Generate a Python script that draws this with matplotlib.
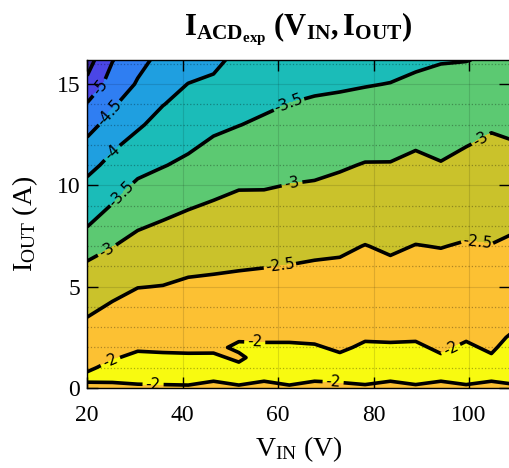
import matplotlib
matplotlib.use('Agg')
import matplotlib.pyplot as plt
import numpy as np
from matplotlib.ticker import MultipleLocator

plt.rcParams['font.family'] = ['Liberation Serif', 'DejaVu Serif']
plt.rcParams['mathtext.fontset'] = 'custom'
plt.rcParams['mathtext.rm'] = 'Liberation Serif'
plt.rcParams['mathtext.it'] = 'Liberation Serif:italic'
plt.rcParams['mathtext.bf'] = 'Liberation Serif:bold'

# input voltage grid (V) and output current grid (A)
v_in = np.linspace(20, 110, 18)
i_out = [0, 0.5, 1, 1.5, 2, 2.5, 3, 4, 5, 6, 7, 8, 9, 10, 11, 12, 13, 14, 15, 16.2]

# I_ACD values, one row per current, one column per voltage
z_rows = [
    [-2.08, -2.12, -2.06, -2.05, -2.04, -2.20, -2.04, -2.20, -2.04, -2.20, -2.12, -2.05, -2.20, -2.05, -2.20, -2.05, -2.20, -2.05],
    [-1.94, -1.90, -1.90, -1.90, -1.90, -1.90, -1.90, -1.90, -1.90, -1.90, -1.90, -1.90, -1.90, -1.90, -1.90, -1.90, -1.90, -1.90],
    [-2.04, -1.93, -1.90, -1.90, -1.90, -1.90, -1.95, -1.90, -1.90, -1.90, -1.92, -1.90, -1.90, -1.90, -1.93, -1.90, -1.93, -1.90],
    [-2.13, -2.02, -1.95, -1.96, -1.97, -1.96, -2.04, -1.90, -1.90, -1.91, -1.97, -1.90, -1.90, -1.90, -1.98, -1.92, -1.98, -1.90],
    [-2.22, -2.10, -2.03, -2.04, -2.04, -2.05, -1.96, -1.97, -1.97, -1.98, -2.03, -1.97, -1.97, -1.97, -2.03, -1.97, -2.03, -1.90],
    [-2.31, -2.19, -2.11, -2.11, -2.11, -2.10, -2.03, -2.03, -2.03, -2.04, -2.08, -2.02, -2.03, -2.02, -2.07, -2.02, -2.07, -1.95],
    [-2.41, -2.28, -2.19, -2.19, -2.17, -2.16, -2.10, -2.10, -2.10, -2.10, -2.13, -2.08, -2.08, -2.08, -2.12, -2.07, -2.12, -2.01],
    [-2.59, -2.45, -2.34, -2.34, -2.30, -2.29, -2.25, -2.23, -2.24, -2.22, -2.24, -2.18, -2.20, -2.18, -2.22, -2.17, -2.21, -2.11],
    [-2.76, -2.63, -2.51, -2.49, -2.43, -2.42, -2.39, -2.37, -2.36, -2.34, -2.34, -2.29, -2.32, -2.29, -2.31, -2.27, -2.30, -2.21],
    [-2.93, -2.81, -2.68, -2.64, -2.58, -2.55, -2.53, -2.51, -2.49, -2.46, -2.45, -2.39, -2.44, -2.39, -2.41, -2.37, -2.40, -2.32],
    [-3.19, -3.01, -2.86, -2.79, -2.73, -2.69, -2.65, -2.63, -2.61, -2.59, -2.56, -2.49, -2.55, -2.49, -2.51, -2.47, -2.49, -2.43],
    [-3.51, -3.24, -3.04, -2.95, -2.88, -2.82, -2.78, -2.76, -2.74, -2.72, -2.68, -2.62, -2.66, -2.60, -2.62, -2.58, -2.58, -2.53],
    [-3.70, -3.48, -3.24, -3.13, -3.03, -2.96, -2.90, -2.89, -2.86, -2.85, -2.80, -2.74, -2.77, -2.71, -2.74, -2.68, -2.67, -2.64],
    [-3.90, -3.67, -3.43, -3.32, -3.22, -3.11, -3.03, -3.03, -2.99, -2.97, -2.92, -2.86, -2.87, -2.81, -2.86, -2.79, -2.76, -2.76],
    [-4.13, -3.87, -3.64, -3.52, -3.41, -3.27, -3.19, -3.16, -3.12, -3.09, -3.04, -2.98, -2.98, -2.92, -2.98, -2.90, -2.85, -2.87],
    [-4.39, -4.07, -3.85, -3.68, -3.57, -3.43, -3.34, -3.30, -3.24, -3.21, -3.17, -3.11, -3.10, -3.03, -3.08, -3.01, -2.94, -2.98],
    [-4.67, -4.31, -4.06, -3.84, -3.71, -3.59, -3.51, -3.43, -3.37, -3.33, -3.29, -3.25, -3.23, -3.16, -3.19, -3.13, -3.04, -3.10],
    [-4.96, -4.55, -4.26, -4.01, -3.86, -3.75, -3.65, -3.57, -3.49, -3.45, -3.42, -3.38, -3.36, -3.29, -3.29, -3.25, -3.15, -3.22],
    [-5.39, -4.77, -4.46, -4.19, -3.99, -3.92, -3.79, -3.71, -3.63, -3.57, -3.55, -3.52, -3.49, -3.42, -3.40, -3.36, -3.27, -3.34],
    [-5.70, -5.02, -4.62, -4.38, -4.24, -4.11, -3.88, -3.86, -3.79, -3.73, -3.71, -3.68, -3.64, -3.58, -3.52, -3.51, -3.46, -3.48],
]

fill_levels = [-6, -5.5, -5, -4.5, -4, -3.5, -3, -2.5, -2, -1.5]
line_levels = [-5.5, -5, -4.5, -4, -3.5, -3, -2.5, -2]
band_colors = ['#3e27a6', '#4a46e6', '#2f7ef2', '#1f9fe0', '#1bbcb8',
               '#5cc972', '#cac22b', '#fcc133', '#f8fa10']

# where the contour labels sit (V, I)
label_pos = [(22.3, 14.9), (24.1, 13.7), (24.4, 11.8), (26.2, 9.8), (61.9, 14.2),
             (24.4, 6.7), (62.9, 10.1), (102.7, 12.2), (60.4, 6.0), (101.7, 7.2),
             (25.2, 1.15), (55.1, 2.2), (96.0, 2.0), (33.8, 0.15), (71.5, 0.15)]

Z = np.array(z_rows)
V, I = np.meshgrid(v_in, i_out)

fig = plt.figure(figsize=(5.1, 4.68), dpi=100)
ax = fig.add_axes([0.171, 0.171, 0.829, 0.701])

ax.contourf(V, I, Z, levels=fill_levels, colors=band_colors, algorithm='serial')
cs = ax.contour(V, I, Z, levels=line_levels, colors='k', linewidths=2.6,
                linestyles='solid', algorithm='serial')
ax.clabel(cs, manual=label_pos, inline=True, fontsize=11, fmt='%g',
          inline_spacing=4)
for t in cs.labelTexts:
    t.set_family('DejaVu Sans')

ax.set_xlim(20, 108.6)
ax.set_ylim(0, 16.2)
ax.set_xticks([20, 40, 60, 80, 100])
ax.set_yticks([0, 5, 10, 15])
ax.yaxis.set_minor_locator(MultipleLocator(1))
ax.tick_params(which='major', direction='in', top=True, right=True,
               length=8, width=1, labelsize=17)
ax.tick_params(which='minor', length=0)
ax.tick_params(axis='x', pad=12)
ax.tick_params(axis='y', pad=5)

ax.set_axisbelow(False)
ax.grid(which='major', color='k', alpha=0.12, lw=0.8)
ax.grid(which='minor', axis='y', color='k', alpha=0.3, lw=0.9, linestyle=':')
for s in ax.spines.values():
    s.set_linewidth(1.0)

ax.set_title(r'$\mathbf{I_{ACD_{exp}}\ (V_{IN},I_{OUT})}$', fontsize=22, pad=18)
ax.set_xlabel(r'$\mathregular{V_{IN}}$ (V)', fontsize=20, labelpad=6)
ax.set_ylabel(r'$\mathregular{I_{OUT}}$ (A)', fontsize=20, labelpad=12)

fig.savefig('out.png', dpi=100)
